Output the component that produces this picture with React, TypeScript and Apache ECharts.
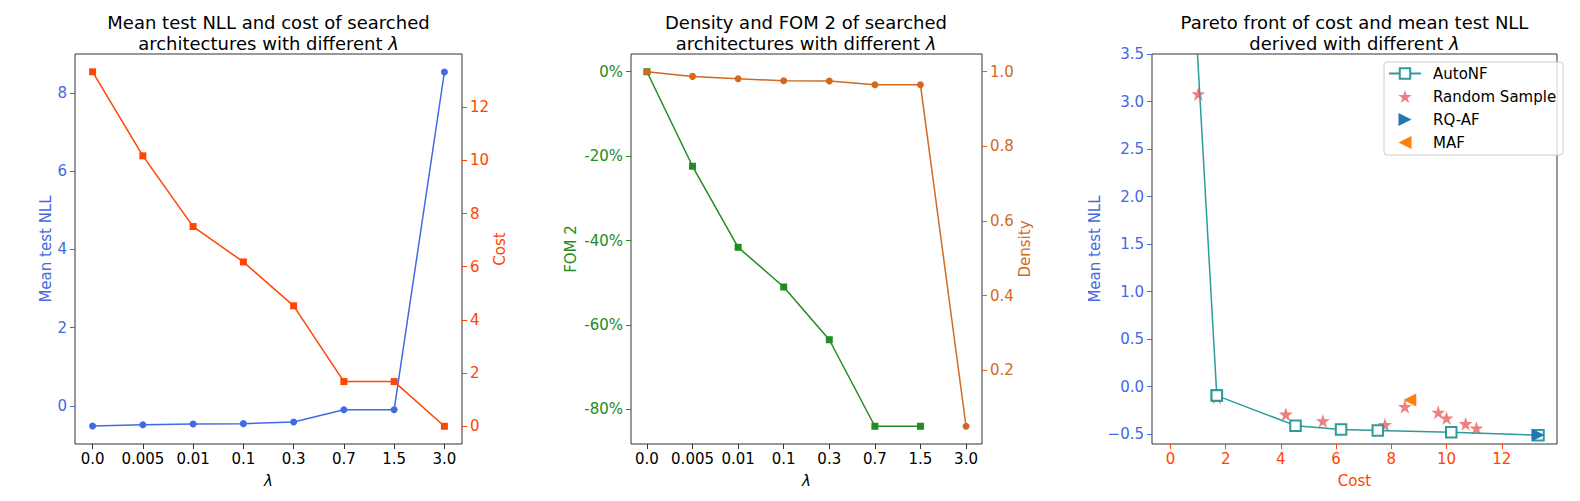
import React, { useEffect, useRef } from 'react';
import * as echarts from 'echarts';

// ---------- data ----------
const lambdaLabels = ['0.0', '0.005', '0.01', '0.1', '0.3', '0.7', '1.5', '3.0'];
const meanTestNLL = [-0.51, -0.48, -0.46, -0.45, -0.41, -0.094, -0.094, 8.53];
const cost = [13.33, 10.17, 7.51, 6.18, 4.53, 1.68, 1.68, 0];
const fom2 = [0, -22.4, -41.6, -51.0, -63.5, -84.0, -84.0]; // percent, no value for 3.0
const density = [1.0, 0.9875, 0.981, 0.976, 0.975, 0.965, 0.965, 0.05];

const randomCost = [1.01, 1.68, 4.18, 5.52, 7.77, 8.49, 9.7, 10.0, 10.69, 11.08];
const randomNLL = [3.08, -0.11, -0.29, -0.36, -0.4, -0.21, -0.27, -0.33, -0.39, -0.435];
const rqafPoint = [13.31, -0.508];
const mafPoint = [8.67, -0.14];

const nllTicks = [0, 2, 4, 6, 8];
const costTicks = [0, 2, 4, 6, 8, 10, 12];
const fomTicks = [-80, -60, -40, -20, 0];
const densityTicks = [0.2, 0.4, 0.6, 0.8, 1.0];
const paretoCostTicks = [0, 2, 4, 6, 8, 10, 12];
const paretoNLLTicks = [-0.5, 0, 0.5, 1.0, 1.5, 2.0, 2.5, 3.0, 3.5];

// ---------- styles ----------
const FONT = 'DejaVu Sans';
const BLUE = '#4169E1';
const ORANGERED = '#FF4500';
const GREEN = '#228B22';
const CHOCOLATE = '#D2691E';
const TEAL = '#2E9A99';
const CORAL = '#EF7F7F';
const TABBLUE = '#1F77B4';
const TABORANGE = '#FF7F0E';
const SPINE = '#333333';

const STAR = 'path://M100 0 L122.45 69.1 L195.1 69.1 L136.3 111.8 L158.8 180.9 L100 138.2 L41.2 180.9 L63.7 111.8 L4.9 69.1 L77.55 69.1 Z';
const TRI_RIGHT = 'path://M0 0 L10 5 L0 10 Z';
const TRI_LEFT = 'path://M10 0 L0 5 L10 10 Z';

const lambdaIdx = lambdaLabels.map((_, i) => i);

function xLambda(gridIndex: number) {
  return {
    type: 'value',
    gridIndex,
    min: -0.35,
    max: 7.35,
    axisLine: { show: false, onZero: false },
    splitLine: { show: false },
    axisTick: { show: true, customValues: lambdaIdx, length: 5, lineStyle: { color: SPINE, width: 1 } },
    axisLabel: {
      customValues: lambdaIdx,
      formatter: (v: number) => lambdaLabels[Math.round(v)],
      color: '#000',
      fontSize: 15,
      fontFamily: FONT,
      margin: 7,
    },
    name: 'λ',
    nameLocation: 'middle',
    nameGap: 29,
    nameTextStyle: { fontStyle: 'italic', fontSize: 15, color: '#000', fontFamily: FONT },
  };
}

function yAxis(
  gridIndex: number,
  position: 'left' | 'right',
  min: number,
  max: number,
  ticks: number[],
  color: string,
  formatter: (v: number) => string,
  name: string,
  nameGap: number
) {
  return {
    type: 'value',
    gridIndex,
    position,
    min,
    max,
    axisLine: { show: false, onZero: false },
    splitLine: { show: false },
    axisTick: { show: true, customValues: ticks, length: 5, lineStyle: { color, width: 1 } },
    axisLabel: { customValues: ticks, formatter, color, fontSize: 15, fontFamily: FONT, margin: 8 },
    name,
    nameLocation: 'middle',
    nameRotate: 90,
    nameGap,
    nameTextStyle: { color, fontSize: 15, fontFamily: FONT },
  };
}

function titleOf(text: string, x: number) {
  return {
    text,
    left: x,
    top: 11.5,
    padding: 0,
    textAlign: 'center',
    textStyle: {
      fontSize: 18,
      fontWeight: 'normal',
      color: '#000',
      fontFamily: FONT,
      lineHeight: 21,
      rich: { i: { fontStyle: 'italic', fontSize: 18, fontFamily: FONT, lineHeight: 21, color: '#000' } },
    },
  };
}

const gridBase = { show: true, borderColor: SPINE, borderWidth: 1, backgroundColor: 'transparent', containLabel: false };

export default function App() {
  const ref = useRef<HTMLDivElement>(null);
  useEffect(() => {
    if (!ref.current) return;
    const chart = echarts.init(ref.current, null, { renderer: 'svg' });
    const pareto = cost.map((c, i) => [c, meanTestNLL[i]]);
    const option: any = {
      animation: false,
      backgroundColor: '#fff',
      textStyle: { fontFamily: FONT },
      title: [
        titleOf('Mean test NLL and cost of searched\narchitectures with different {i|λ}', 268.5),
        titleOf('Density and FOM 2 of searched\narchitectures with different {i|λ}', 806),
        titleOf('Pareto front of cost and mean test NLL\nderived with different {i|λ}', 1354.5),
      ],
      grid: [
        { ...gridBase, left: 75, top: 54, width: 387, height: 390 },
        { ...gridBase, left: 631, top: 54, width: 351, height: 390 },
        { ...gridBase, left: 1152, top: 54, width: 405, height: 390 },
      ],
      xAxis: [
        xLambda(0),
        xLambda(1),
        {
          type: 'value',
          gridIndex: 2,
          min: -0.667,
          max: 14.0,
          axisLine: { show: false, onZero: false },
          splitLine: { show: false },
          axisTick: { show: true, customValues: paretoCostTicks, length: 5, lineStyle: { color: ORANGERED, width: 1 } },
          axisLabel: {
            customValues: paretoCostTicks,
            formatter: (v: number) => String(v),
            color: ORANGERED,
            fontSize: 15,
            fontFamily: FONT,
            margin: 7,
          },
          name: 'Cost',
          nameLocation: 'middle',
          nameGap: 29,
          nameTextStyle: { fontSize: 15, color: ORANGERED, fontFamily: FONT },
        },
      ],
      yAxis: [
        yAxis(0, 'left', -0.97, 8.99, nllTicks, BLUE, (v) => String(v), 'Mean test NLL', 22),
        yAxis(0, 'right', -0.667, 14.0, costTicks, ORANGERED, (v) => String(v), 'Cost', 29),
        yAxis(1, 'left', -88.2, 4.2, fomTicks, GREEN, (v) => `${Math.round(v)}%`, 'FOM 2', 53),
        yAxis(1, 'right', 0.0025, 1.0475, densityTicks, CHOCOLATE, (v) => v.toFixed(1), 'Density', 35),
        yAxis(2, 'left', -0.603, 3.5, paretoNLLTicks, BLUE, (v) => (v < 0 ? '\u2212' + Math.abs(v).toFixed(1) : v.toFixed(1)), 'Mean test NLL', 50),
      ],
      legend: {
        data: ['AutoNF', 'Random Sample', 'RQ-AF', 'MAF'],
        orient: 'vertical',
        left: 1384,
        top: 62,
        itemWidth: 32,
        itemHeight: 13,
        itemGap: 8,
        padding: [4, 7, 5, 4],
        backgroundColor: 'rgba(255,255,255,0.8)',
        borderColor: '#cccccc',
        borderWidth: 1,
        borderRadius: 3,
        selectedMode: false,
        textStyle: { fontSize: 15, color: '#000', fontFamily: FONT, padding: [0, 0, 0, 7] },
      },
      series: [
        {
          name: 'nll',
          type: 'line',
          xAxisIndex: 0,
          yAxisIndex: 0,
          data: meanTestNLL.map((v, i) => [i, v]),
          symbol: 'circle',
          symbolSize: 7,
          itemStyle: { color: BLUE },
          lineStyle: { color: BLUE, width: 1.5 },
        },
        {
          name: 'cost',
          type: 'line',
          xAxisIndex: 0,
          yAxisIndex: 1,
          data: cost.map((v, i) => [i, v]),
          symbol: 'rect',
          symbolSize: 7,
          itemStyle: { color: ORANGERED },
          lineStyle: { color: ORANGERED, width: 1.5 },
        },
        {
          name: 'fom2',
          type: 'line',
          xAxisIndex: 1,
          yAxisIndex: 2,
          data: fom2.map((v, i) => [i, v]),
          symbol: 'rect',
          symbolSize: 7,
          itemStyle: { color: GREEN },
          lineStyle: { color: GREEN, width: 1.5 },
        },
        {
          name: 'density',
          type: 'line',
          xAxisIndex: 1,
          yAxisIndex: 3,
          data: density.map((v, i) => [i, v]),
          symbol: 'circle',
          symbolSize: 7,
          itemStyle: { color: CHOCOLATE },
          lineStyle: { color: CHOCOLATE, width: 1.5 },
        },
        {
          name: 'Random Sample',
          type: 'scatter',
          xAxisIndex: 2,
          yAxisIndex: 4,
          data: randomCost.map((c, i) => [c, randomNLL[i]]),
          symbol: STAR,
          symbolSize: 14,
          itemStyle: { color: CORAL, opacity: 1 },
          z: 2,
        },
        {
          name: 'AutoNF',
          type: 'line',
          xAxisIndex: 2,
          yAxisIndex: 4,
          data: pareto,
          symbol: 'emptyRect',
          symbolSize: 10.5,
          itemStyle: { color: TEAL, borderColor: TEAL, borderWidth: 1.3 },
          lineStyle: { color: TEAL, width: 1.5 },
          z: 3,
        },
        {
          name: 'RQ-AF',
          type: 'scatter',
          xAxisIndex: 2,
          yAxisIndex: 4,
          data: [rqafPoint],
          symbol: TRI_RIGHT,
          symbolSize: 13,
          itemStyle: { color: TABBLUE, opacity: 1 },
          z: 4,
        },
        {
          name: 'MAF',
          type: 'scatter',
          xAxisIndex: 2,
          yAxisIndex: 4,
          data: [mafPoint],
          symbol: TRI_LEFT,
          symbolSize: 13,
          itemStyle: { color: TABORANGE, opacity: 1 },
          z: 4,
        },
      ],
    };
    chart.setOption(option);
    return () => chart.dispose();
  }, []);
  return <div ref={ref} style={{ position: 'fixed', left: 0, top: 0, width: 1580, height: 501 }} />;
}
